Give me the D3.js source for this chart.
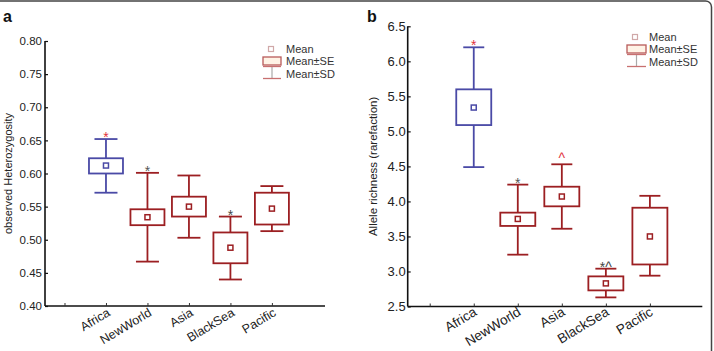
<!DOCTYPE html>
<html>
<head>
<meta charset="utf-8">
<script src="https://cdn.jsdelivr.net/npm/d3@7"></script>
<style>
  body { margin: 0; background: #fff; }
  svg { display: block; font-family: "Liberation Sans", Arial, sans-serif; }
</style>
</head>
<body>
<div class="container"></div>
<script>
const WIDTH = 714;
const HEIGHT = 351;

const BLUE = '#4a4aa6';
const RED = '#9c1f22';

// categories (position 0 is an empty tick)
const categories = ['', 'Africa', 'NewWorld', 'Asia', 'BlackSea', 'Pacific'];

// panel a: observed heterozygosity
const hetTicks = [0.40, 0.45, 0.50, 0.55, 0.60, 0.65, 0.70, 0.75, 0.80];
const hetMean = [0.612, 0.534, 0.550, 0.488, 0.547];
const hetSeLow = [0.600, 0.522, 0.535, 0.4645, 0.523];
const hetSeHigh = [0.623, 0.546, 0.565, 0.511, 0.571];
const hetSdLow = [0.571, 0.467, 0.503, 0.440, 0.513];
const hetSdHigh = [0.652, 0.601, 0.597, 0.535, 0.581];
const hetMarks = ['*', '*', '', '*', ''];

// panel b: allele richness (rarefaction)
const richTicks = [2.5, 3.0, 3.5, 4.0, 4.5, 5.0, 5.5, 6.0, 6.5];
const richMean = [5.34, 3.75, 4.07, 2.83, 3.50];
const richSeLow = [5.09, 3.65, 3.93, 2.73, 3.10];
const richSeHigh = [5.60, 3.84, 4.21, 2.93, 3.91];
const richSdLow = [4.49, 3.24, 3.61, 2.63, 2.94];
const richSdHigh = [6.20, 4.24, 4.53, 3.04, 4.08];
const richMarks = ['*', '*', '^', '*^', ''];

const groupColors = [BLUE, RED, RED, RED, RED];
const markColors = ['#e2323c', '#555', '#e2323c', '#444', '#555'];

var _svg = d3.select('.container').append('svg')
    .attr('width', WIDTH).attr('height', HEIGHT);

// figure frame (top and right edges)
_svg.append('path')
    .attr('d', 'M0,1 H705 A6,6 0 0 1 711.5,7 V351')
    .attr('fill', 'none').attr('stroke', '#444').attr('stroke-width', 1.5);

var drawPanel = function (p) {
    var x = d3.scaleLinear().domain(p.xDomain).range(p.xRange);
    var y = d3.scaleLinear().domain(p.yDomain).range(p.yRange);
    var g = _svg.append('g');
    var axisY = p.yRange[0];

    // x axis
    var xAxis = d3.axisBottom(x).tickValues(d3.range(categories.length))
        .tickSize(-3).tickFormat('');
    var xg = g.append('g').attr('transform', 'translate(0,' + axisY + ')').call(xAxis);
    xg.select('.domain').attr('d', 'M' + p.xRange[0] + ',0H' + p.xRange[1])
        .attr('stroke', '#111').attr('stroke-width', 1.6);
    xg.selectAll('.tick line').attr('stroke', '#333').attr('stroke-width', 1);

    g.selectAll('.xlab').data(categories.slice(1)).enter().append('text')
        .attr('class', 'xlab')
        .attr('transform', function (d, i) {
            return 'translate(' + (x(i + 1) + p.labDx) + ',' + (axisY + p.labDy) + ') rotate(-31)';
        })
        .attr('text-anchor', 'end')
        .attr('font-size', p.labSize)
        .attr('fill', '#222')
        .text(function (d) { return d; });

    // y axis
    var yAxis = d3.axisLeft(y).tickValues(p.yTicks).tickSize(-3)
        .tickPadding(p.yPad).tickFormat(d3.format(p.yFormat));
    var yg = g.append('g').attr('transform', 'translate(' + p.xRange[0] + ',0)').call(yAxis);
    yg.select('.domain').attr('d', 'M0,' + p.yRange[0] + 'V' + p.yRange[1])
        .attr('stroke', '#111').attr('stroke-width', 1.6);
    yg.selectAll('.tick line').attr('stroke', '#111').attr('stroke-width', 1.2);
    yg.selectAll('.tick text').attr('font-size', p.yTickSize).attr('fill', '#222')
        .attr('font-family', '"Liberation Sans", Arial, sans-serif');

    g.append('text')
        .attr('transform', 'translate(' + p.yLabX + ',' + ((p.yRange[0] + p.yRange[1]) / 2) + ') rotate(-90)')
        .attr('text-anchor', 'middle')
        .attr('dy', '0.35em')
        .attr('font-size', p.yLabSize)
        .attr('fill', '#222')
        .text(p.yLabel);

    // panel letter
    g.append('text').attr('x', p.letterX).attr('y', 22)
        .attr('font-size', 16).attr('font-weight', 'bold').attr('fill', '#111')
        .text(p.letter);

    // boxes
    var hw = p.boxW / 2, cw = p.capW / 2;
    var items = g.selectAll('.grp').data(p.mean).enter().append('g').attr('class', 'grp')
        .attr('fill', 'none')
        .attr('stroke', function (d, i) { return groupColors[i]; })
        .attr('stroke-width', 1.8);

    items.append('line')
        .attr('x1', function (d, i) { return x(i + 1); })
        .attr('x2', function (d, i) { return x(i + 1); })
        .attr('y1', function (d, i) { return y(p.sdHigh[i]); })
        .attr('y2', function (d, i) { return y(p.seHigh[i]); });
    items.append('line')
        .attr('x1', function (d, i) { return x(i + 1); })
        .attr('x2', function (d, i) { return x(i + 1); })
        .attr('y1', function (d, i) { return y(p.seLow[i]); })
        .attr('y2', function (d, i) { return y(p.sdLow[i]); });
    items.append('line')
        .attr('x1', function (d, i) { return x(i + 1) - cw; })
        .attr('x2', function (d, i) { return x(i + 1) + cw; })
        .attr('y1', function (d, i) { return y(p.sdHigh[i]); })
        .attr('y2', function (d, i) { return y(p.sdHigh[i]); });
    items.append('line')
        .attr('x1', function (d, i) { return x(i + 1) - cw; })
        .attr('x2', function (d, i) { return x(i + 1) + cw; })
        .attr('y1', function (d, i) { return y(p.sdLow[i]); })
        .attr('y2', function (d, i) { return y(p.sdLow[i]); });
    items.append('rect')
        .attr('x', function (d, i) { return x(i + 1) - hw; })
        .attr('width', p.boxW)
        .attr('y', function (d, i) { return y(p.seHigh[i]); })
        .attr('height', function (d, i) { return y(p.seLow[i]) - y(p.seHigh[i]); });
    items.append('rect')
        .attr('x', function (d, i) { return x(i + 1) - 2.5; })
        .attr('y', function (d) { return y(d) - 2.5; })
        .attr('width', 5).attr('height', 5)
        .attr('stroke-width', 1.5);

    // significance marks
    g.selectAll('.mark').data(p.marks).enter().append('text')
        .attr('class', 'mark')
        .attr('x', function (d, i) { return x(i + 1); })
        .attr('y', function (d, i) { return y(p.sdHigh[i]) + (d === '^' ? -1 : 3); })
        .attr('text-anchor', 'middle')
        .attr('font-size', 14)
        .attr('fill', function (d, i) { return markColors[i]; })
        .text(function (d) { return d; });

    // legend
    var lg = g.append('g').attr('transform', 'translate(' + p.legX + ',' + p.legY + ')');
    lg.append('rect').attr('x', 5.5).attr('y', -2.5).attr('width', 5).attr('height', 5)
        .attr('fill', 'none').attr('stroke', '#d0a8a8').attr('stroke-width', 1.2);
    lg.append('rect').attr('x', 0).attr('y', 8).attr('width', p.legBoxW).attr('height', 8)
        .attr('fill', '#fff3e6').attr('stroke', '#b85a5a').attr('stroke-width', 1.3);
    lg.append('line').attr('x1', p.legBoxW / 2).attr('x2', p.legBoxW / 2)
        .attr('y1', 17.5).attr('y2', 29).attr('stroke', '#aaa').attr('stroke-width', 1.2);
    lg.append('line').attr('x1', 0).attr('x2', p.legBoxW).attr('y1', 17.5).attr('y2', 17.5)
        .attr('stroke', '#c87070').attr('stroke-width', 1.3);
    lg.append('line').attr('x1', 0).attr('x2', p.legBoxW).attr('y1', 29.5).attr('y2', 29.5)
        .attr('stroke', '#c87070').attr('stroke-width', 1.3);
    lg.selectAll('.lt').data(['Mean', 'Mean\u00b1SE', 'Mean\u00b1SD']).enter().append('text')
        .attr('x', p.legTextX)
        .attr('y', function (d, i) { return i * 12.5; })
        .attr('dy', '0.35em')
        .attr('font-size', 11)
        .attr('fill', '#333')
        .text(function (d) { return d; });
};

drawPanel({
    letter: 'a', letterX: 3,
    xDomain: [-0.47, 6.28], xRange: [45, 325],
    yDomain: [0.40, 0.80], yRange: [306, 41],
    yTicks: hetTicks, yFormat: '.2f', yTickSize: 11.5, yPad: 3,
    yLabel: 'observed Heterozygosity', yLabX: 8, yLabSize: 11,
    labDx: 5, labDy: 9, labSize: 12.5,
    boxW: 34, capW: 23,
    mean: hetMean, seLow: hetSeLow, seHigh: hetSeHigh, sdLow: hetSdLow, sdHigh: hetSdHigh,
    marks: hetMarks,
    legX: 263, legY: 49, legBoxW: 18, legTextX: 23
});

drawPanel({
    letter: 'b', letterX: 367,
    xDomain: [-0.5, 6.19], xRange: [407.7, 702.3],
    yDomain: [2.5, 6.5], yRange: [306.5, 26.3],
    yTicks: richTicks, yFormat: '.1f', yTickSize: 13, yPad: 2,
    yLabel: 'Allele richness (rarefaction)', yLabX: 373, yLabSize: 11.5,
    labDx: 4, labDy: 8, labSize: 13.5,
    boxW: 35, capW: 21,
    mean: richMean, seLow: richSeLow, seHigh: richSeHigh, sdLow: richSdLow, sdHigh: richSdHigh,
    marks: richMarks,
    legX: 627, legY: 37, legBoxW: 19, legTextX: 22
});
</script>
</body>
</html>
